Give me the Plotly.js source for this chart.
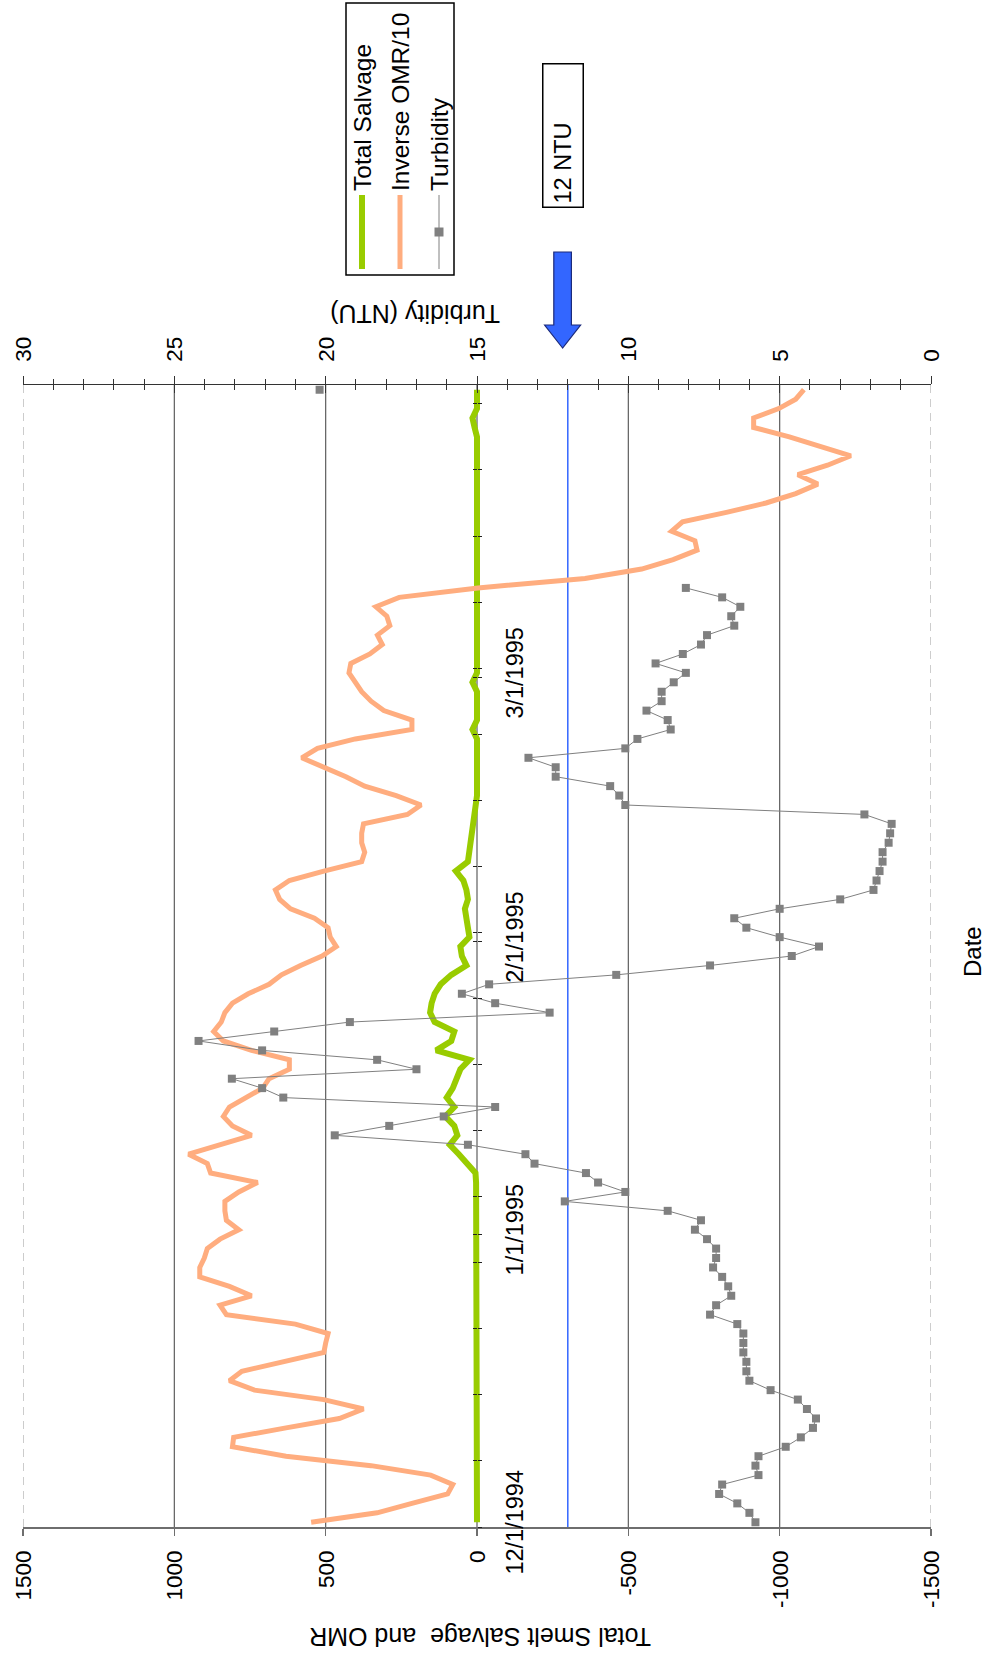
<!DOCTYPE html>
<html><head><meta charset="utf-8">
<script src="https://cdn.plot.ly/plotly-3.0.1.min.js"></script>
<style>
html,body{margin:0;padding:0;overflow:hidden;background:#fff;width:987px;height:1658px;}
#chart{position:absolute;left:0;top:0;width:1658px;height:987px;transform-origin:0 0;transform:translate(0px,1658px) rotate(-90deg);}
</style></head><body><div id="chart"></div>
<script>
// ---------------- data (one value per day, starting 12/1/1994) ----------------
const startDate = '1994-12-01';
const totalSalvage = [
0,0,0,0,0,0,0,0,0,0, 0,0,0,3,0,0,0,3,0,0,
0,0,0,0,0,0,0,0,0,0, 0,0,0,0,0,0,3,5,30,60,
90,65,75,105,75,100,80,65,55,25, 135,85,75,140,155,150,140,120,85,35,
50,55,25,30,35,40,30,35,45,70, 30,25,25,20,15,10,5,0,0,0,
0,0,0,0,15,0,0,0,0,15, 0,0,0,0,0,0,0,0,0,0,
0,0,0,0,0,0,0,0,0,0, 0,0,0,0,0,0,8,15,0,0,
0];
const inverseOMR10 = [
548,330,215,97,80,153,350,631,808,804, 631,455,375,506,735,818,777,641,506,500,
492,600,828,849,745,818,916,916,901,891, 849,787,828,833,833,787,725,880,891,953,
849,745,808,838,818,766,708,687,620,620, 745,838,870,845,833,808,756,687,646,583,
512,465,485,492,537,616,652,666,620,506, 381,371,381,381,375,230,185,267,371,433,
506,579,527,402,215,215,308,350,381,402, 423,417,354,313,329,288,298,334,257,-3,
-357,-544,-648,-727,-720,-643,-679,-824,-955,-1053, -1126,-1060,-1158,-1235,-1137,-1032,-914,-914,-997,-1053,
-1080];
const turbidity = [
5.8,6.0,6.4,7.0,6.9,5.7,5.8,5.7,4.8,4.3, 3.9,3.8,4.1,4.4,5.3,6.0,6.1,6.1,6.2,6.2,
6.2,6.4,7.3,7.1,6.6,6.7,6.9,7.2,7.1,7.1, 7.4,7.8,7.6,8.7,12.1,10.1,11.0,11.4,13.1,13.4,
15.3,19.7,17.9,16.1,14.4,21.4,22.1,23.1,17.0,18.3, 22.1,24.2,21.7,19.2,12.6,14.4,15.5,14.6,10.4,7.3,
4.6,3.7,5.0,6.1,6.5,5.0,3.0,1.9,1.8,1.7, 1.6,1.6,1.4,1.35,1.3,2.2,10.1,10.3,10.6,12.4,
12.4,13.3,10.1,9.7,8.6,8.7,9.4,8.9,8.9,8.5, 8.1,9.1,8.2,7.6,7.4,6.5,6.6,6.3,6.9,8.1,
null,null,null,null,null,null,null,null,null,null, null,null,null,null,null,null,null,null,null,null,
20.2];
const seriesNames = ['Total Salvage','Inverse OMR/10','Turbidity'];
const seriesColors = ['#99cc00','#ffad7f','#808080'];
const dateTickDates = ['1994-12-01','1995-01-01','1995-02-01','1995-03-01'];
const dateTickLabels = ['12/1/1994','1/1/1995','2/1/1995','3/1/1995'];
const salvageTicks = [-1500,-1000,-500,0,500,1000,1500];
const salvageGrid = [-1000,-500,0,500,1000];
const turbidityTicks = [0,5,10,15,20,25,30];
const turbidityThreshold = 12;

// ---------------- helpers ----------------
function addDays(iso, n){ const d = new Date(iso+'T00:00:00Z'); d.setUTCDate(d.getUTCDate()+n); return d.toISOString().slice(0,10); }
const dates = inverseOMR10.map((_,i)=>addDays(startDate,i));
const xRange = [addDays(startDate,-1)+' 12:00', dates[dates.length-1]+' 12:00'];
const boundaryTicks = [];
for (let k=0;k*7<=dates.length;k++) boundaryTicks.push(addDays(startDate,-1+7*k)+' 12:00');
dateTickDates.slice(1).forEach(d=>boundaryTicks.push(addDays(d,-1)+' 12:00'));

const W=1658,H=987, M={l:131,r:385,t:23,b:56,pad:0};
const pw=W-M.l-M.r, ph=H-M.t-M.b;
const PX=X=>(X-M.l)/pw, PY=Y=>1-(Y-M.t)/ph;
const FONT='Liberation Sans, Arial, sans-serif';

const traces = [
 {x:dates,y:totalSalvage,name:seriesNames[0],type:'scatter',mode:'lines',line:{color:seriesColors[0],width:6},hoverinfo:'skip'},
 {x:dates,y:inverseOMR10,name:seriesNames[1],type:'scatter',mode:'lines',line:{color:seriesColors[1],width:5},hoverinfo:'skip'},
 {x:dates,y:turbidity,name:seriesNames[2],type:'scatter',mode:'lines+markers',yaxis:'y2',connectgaps:false,
  line:{color:seriesColors[2],width:1},marker:{symbol:'square',size:8,color:seriesColors[2]},hoverinfo:'skip'},
 {x:[dates[0]],y:[null],xaxis:'x2',yaxis:'y',showlegend:false,hoverinfo:'skip',mode:'lines'},
 {x:[dates[0]],y:[null],xaxis:'x',yaxis:'y3',showlegend:false,hoverinfo:'skip',mode:'lines'}
];

const shapes = [];
salvageGrid.forEach(v=>shapes.push({type:'line',xref:'paper',x0:0,x1:1,yref:'y',y0:v,y1:v,layer:'below',line:{color:'#5e5e5e',width:1.2}}));
[-1500,1500].forEach(v=>shapes.push({type:'line',xref:'paper',x0:0,x1:1,yref:'y',y0:v,y1:v,layer:'below',line:{color:'#9a9a9a',width:1,dash:'8px,6px'}}));
shapes.push({type:'line',xref:'paper',x0:0,x1:1,yref:'y2',y0:turbidityThreshold,y1:turbidityThreshold,layer:'between',line:{color:'#3366ff',width:1.5}});
// block arrow pointing at the 12 NTU level
const ay=562.6;
const pts=[[1310,ay],[1333,ay-18],[1333,ay-8.8],[1406,ay-8.8],[1406,ay+8.8],[1333,ay+8.8],[1333,ay+18]];
shapes.push({type:'path',xref:'paper',yref:'paper',path:'M'+pts.map(p=>PX(p[0]).toFixed(5)+','+PY(p[1]).toFixed(5)).join(' L')+' Z',
  fillcolor:'#3366ff',line:{color:'#1c2a7a',width:1.2},layer:'above'});

// legend box (drawn to match the original's long symbol lines)
shapes.push({type:'rect',xref:'paper',yref:'paper',x0:PX(1383),x1:PX(1655),y0:PY(346),y1:PY(454),line:{color:'#000',width:1.5},fillcolor:'#fff',layer:'above'});
const legY=[362,400,439], legW=[6,5,1];
legY.forEach((yy,i)=>shapes.push({type:'line',xref:'paper',yref:'paper',x0:PX(1389),x1:PX(1463),y0:PY(yy),y1:PY(yy),layer:'above',line:{color:seriesColors[i],width:legW[i]}}));
shapes.push({type:'rect',xref:'paper',yref:'paper',x0:PX(1421.5),x1:PX(1430.5),y0:PY(legY[2]-4.5),y1:PY(legY[2]+4.5),line:{width:0},fillcolor:seriesColors[2],layer:'above'});

const annotations = [
 {text:'Total Smelt Salvage\u00a0 and OMR',xref:'paper',yref:'paper',x:PX(21),y:PY(480),textangle:-90,showarrow:false,font:{size:25},xanchor:'center',yanchor:'middle'},
 {text:'Turbidity (NTU)',xref:'paper',yref:'paper',x:PX(1344),y:PY(415),textangle:-90,showarrow:false,font:{size:25},xanchor:'center',yanchor:'middle'},
 {text:'Date',xref:'paper',yref:'paper',x:PX(706),y:PY(972),showarrow:false,font:{size:24},xanchor:'center',yanchor:'middle'},
 {text:turbidityThreshold+' NTU',xref:'paper',yref:'paper',x:PX(1522.5),y:PY(563),showarrow:false,font:{size:23.5},align:'left',
  width:136,height:33,borderpad:3,borderwidth:1.5,bordercolor:'#000',bgcolor:'#fff',xanchor:'center',yanchor:'middle'}
];
seriesNames.forEach((n,i)=>annotations.push({text:n,xref:'paper',yref:'paper',x:PX(1465),y:PY(legY[i]),showarrow:false,
  font:{size:24.5},xanchor:'left',yanchor:'middle'}));

const layout = {
 width:W,height:H,margin:M,paper_bgcolor:'#fff',plot_bgcolor:'#fff',
 font:{family:FONT,size:22,color:'#000'},
 showlegend:false,
 xaxis:{type:'date',range:xRange,anchor:'free',position:0.5,tickmode:'array',tickvals:dateTickDates,ticktext:dateTickLabels,
   ticks:'',showgrid:false,zeroline:false,showline:false,tickfont:{size:23.5},ticklabelstandoff:21,automargin:false,
   minor:{tickmode:'array',tickvals:boundaryTicks,ticks:'outside',ticklen:4,tickcolor:'#222',tickwidth:1,showgrid:false}},
 xaxis2:{type:'date',range:xRange,overlaying:'x',anchor:'free',position:0.5,tickmode:'array',tickvals:boundaryTicks,
   ticks:'inside',ticklen:4,tickcolor:'#222',tickwidth:1,showticklabels:false,showgrid:false,zeroline:false,showline:false,automargin:false},
 yaxis:{range:[-1500,1500],tickmode:'array',tickvals:salvageTicks,ticktext:salvageTicks.map(String),showgrid:false,zeroline:false,
   showline:true,linecolor:'#6e6e6e',linewidth:2,ticks:'outside',ticklen:7,tickcolor:'#6e6e6e',tickwidth:1.5,
   ticklabelstandoff:10,tickfont:{size:22.5},automargin:false},
 yaxis2:{overlaying:'y',side:'right',range:[0,30],tickmode:'array',tickvals:turbidityTicks,showgrid:false,zeroline:false,
   showline:true,linecolor:'#333',linewidth:1.2,ticks:'outside',ticklen:7.5,tickcolor:'#333',tickwidth:1,
   minor:{tickmode:'linear',tick0:0,dtick:1,ticks:'outside',ticklen:5,tickcolor:'#333',tickwidth:1},
   ticklabelstandoff:10,tickfont:{size:22.5},automargin:false},
 yaxis3:{overlaying:'y',side:'right',range:[0,30],tickmode:'array',tickvals:turbidityTicks,showticklabels:false,showgrid:false,
   zeroline:false,showline:false,ticks:'inside',ticklen:7.5,tickcolor:'#333',tickwidth:1,
   minor:{tickmode:'linear',tick0:0,dtick:1,ticks:'inside',ticklen:5,tickcolor:'#333',tickwidth:1},automargin:false},
 shapes:shapes,annotations:annotations
};
Plotly.newPlot('chart',traces,layout,{displayModeBar:false,staticPlot:true});
</script></body></html>
